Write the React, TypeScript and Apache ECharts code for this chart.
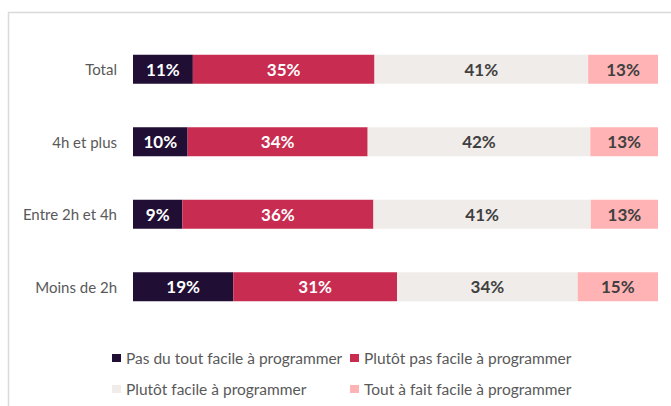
import React, { useEffect, useRef } from "react";
import * as echarts from "echarts";

const categories = ["Total", "4h et plus", "Entre 2h et 4h", "Moins de 2h"];
const seriesNames = [
  "Pas du tout facile à programmer",
  "Plutôt pas facile à programmer",
  "Plutôt facile à programmer",
  "Tout à fait facile à programmer",
];
const pasDuTout = [11.4, 10.4, 9.4, 19.1];
const plutotPas = [34.6, 34.3, 36.4, 31.2];
const plutotFacile = [40.7, 42.4, 41.4, 34.4];
const toutAFait = [13.3, 12.9, 12.8, 15.3];

const colors = ["#200e35", "#c82c50", "#f0ecea", "#ffb3b5"];
const labelColors = ["#ffffff", "#ffffff", "#404040", "#404040"];
const FONT = "Lato, 'Noto Sans', sans-serif";

export default function App() {
  const ref = useRef<HTMLDivElement>(null);
  useEffect(() => {
    if (!ref.current) return;
    const chart = echarts.init(ref.current, null, { renderer: "svg" });
    const values = [pasDuTout, plutotPas, plutotFacile, toutAFait];
    const legendPos = [
      { left: 112, top: 350 },
      { left: 350, top: 350 },
      { left: 112, top: 381 },
      { left: 350, top: 381 },
    ];
    chart.setOption({
      animation: false,
      backgroundColor: "#ffffff",
      graphic: [
        {
          type: "rect",
          shape: { x: 8.5, y: 12.5, width: 700, height: 500 },
          style: { fill: "none", stroke: "#d9d9d9", lineWidth: 1.5 },
          silent: true,
        },
      ],
      legend: seriesNames.map((n, i) => ({
        data: [n],
        left: legendPos[i].left,
        top: legendPos[i].top,
        padding: 0,
        icon: "rect",
        itemWidth: 9,
        itemHeight: 8,
        textStyle: {
          color: "#595959",
          fontSize: 15.5,
          fontFamily: FONT,
          lineHeight: 16,
        },
      })),
      grid: { left: 133, width: 525, top: 33, height: 290 },
      xAxis: { type: "value", min: 0, max: 100, show: false },
      yAxis: {
        type: "category",
        data: categories,
        inverse: true,
        axisLine: { show: false },
        axisTick: { show: false },
        axisLabel: {
          color: "#595959",
          fontSize: 15,
          fontFamily: FONT,
          margin: 16,
        },
      },
      series: seriesNames.map((n, i) => ({
        name: n,
        type: "bar",
        stack: "total",
        barWidth: 29,
        data: values[i],
        itemStyle: { color: colors[i] },
        label: {
          show: true,
          position: "inside",
          color: labelColors[i],
          fontSize: 17,
          fontWeight: "bold",
          fontFamily: FONT,
          formatter: (p: any) => Math.round(p.value) + "%",
        },
      })),
    });
    return () => chart.dispose();
  }, []);
  return (
    <div
      ref={ref}
      style={{ position: "absolute", left: 0, top: 0, width: 671, height: 406 }}
    />
  );
}
